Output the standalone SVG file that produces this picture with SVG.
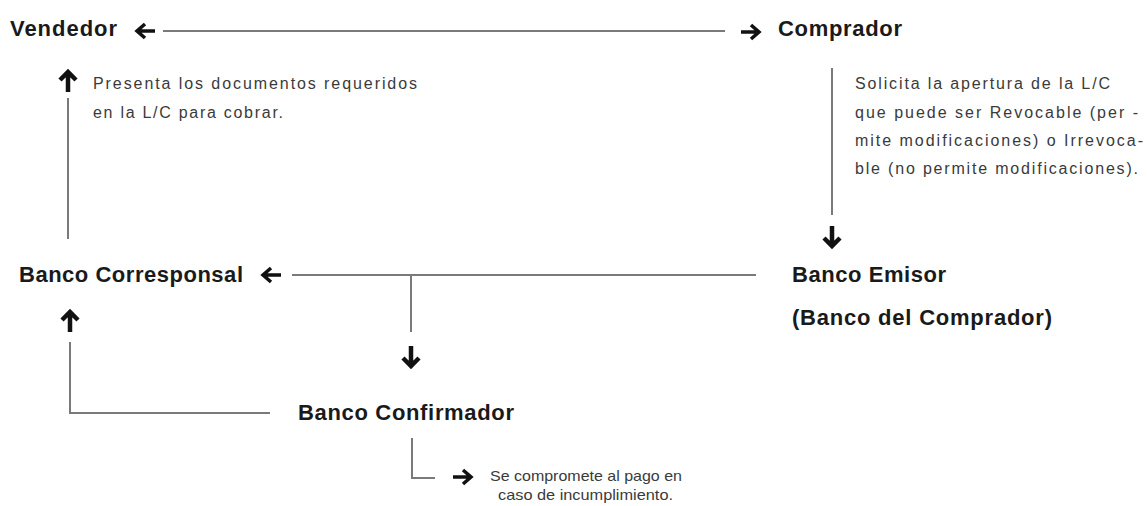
<svg xmlns="http://www.w3.org/2000/svg" width="1147" height="506" viewBox="0 0 1147 506">
<style>
.h{font-family:"Liberation Sans",Arial,sans-serif;font-weight:bold;font-size:22px;fill:#1a1a1a}
.t{font-family:"Liberation Sans",Arial,sans-serif;font-size:16px;fill:#3a3a3a}
.s{font-family:"Liberation Sans",Arial,sans-serif;font-size:15px;fill:#3a3a3a}
.ln{fill:none;stroke:#7a7a7a;stroke-width:2}
.ar{fill:none;stroke:#111;stroke-width:3.5;stroke-linejoin:miter}
</style>
<defs>
<path id="arr" d="M-10,0 H7 M0,-7 L8,0 L0,7" class="ar"/>
<path id="varr" d="M0,-11 V9 M-8,1 L0,9 L8,1" fill="none" stroke="#111" stroke-width="4.5"/>
</defs>
<rect width="1147" height="506" fill="#ffffff"/>
<g id="connectors">
<line class="ln" x1="163" y1="31" x2="725" y2="31"/>
<use href="#arr" transform="translate(145,31) rotate(180)"/>
<use href="#arr" transform="translate(751,32)"/>
<line class="ln" x1="68" y1="98" x2="68" y2="239"/>
<use href="#varr" transform="translate(68,81) rotate(180)"/>
<line class="ln" x1="832" y1="68" x2="832" y2="215"/>
<use href="#varr" transform="translate(832,237)"/>
<line class="ln" x1="292" y1="275" x2="756" y2="275"/>
<use href="#arr" transform="translate(271,275) rotate(180)"/>
<line class="ln" x1="411" y1="275" x2="411" y2="332"/>
<use href="#varr" transform="translate(411,357)"/>
<path class="ln" d="M270,413 H70 V342"/>
<use href="#varr" transform="translate(70,321) rotate(180)"/>
<path class="ln" d="M412,438 V478 H435"/>
<use href="#arr" transform="translate(463,477)"/>
</g>
<g id="vendedor"><text class="h" x="10" y="36" textLength="107">Vendedor</text></g>
<g id="comprador"><text class="h" x="778" y="36" textLength="124">Comprador</text></g>
<g id="nota-presenta">
<text class="t" x="93" y="89" textLength="324">Presenta los documentos requeridos</text>
<text class="t" x="93" y="118" textLength="190">en la L/C para cobrar.</text>
</g>
<g id="nota-solicita">
<text class="t" x="855" y="89" textLength="255">Solicita la apertura de la L/C</text>
<text class="t" x="855" y="118" textLength="283">que puede ser Revocable (per -</text>
<text class="t" x="855" y="146" textLength="288">mite modificaciones) o Irrevoca-</text>
<text class="t" x="855" y="174" textLength="283">ble (no permite modificaciones).</text>
</g>
<g id="banco-corresponsal"><text class="h" x="19" y="282" textLength="224">Banco Corresponsal</text></g>
<g id="banco-emisor">
<text class="h" x="792" y="282" textLength="154">Banco Emisor</text>
<text class="h" x="792" y="325" textLength="260">(Banco del Comprador)</text>
</g>
<g id="banco-confirmador"><text class="h" x="298" y="420" textLength="216">Banco Confirmador</text></g>
<g id="nota-compromete">
<text class="s" x="490" y="481" textLength="192" lengthAdjust="spacingAndGlyphs">Se compromete al pago en</text>
<text class="s" x="498" y="500" textLength="175" lengthAdjust="spacingAndGlyphs">caso de incumplimiento.</text>
</g>
</svg>
